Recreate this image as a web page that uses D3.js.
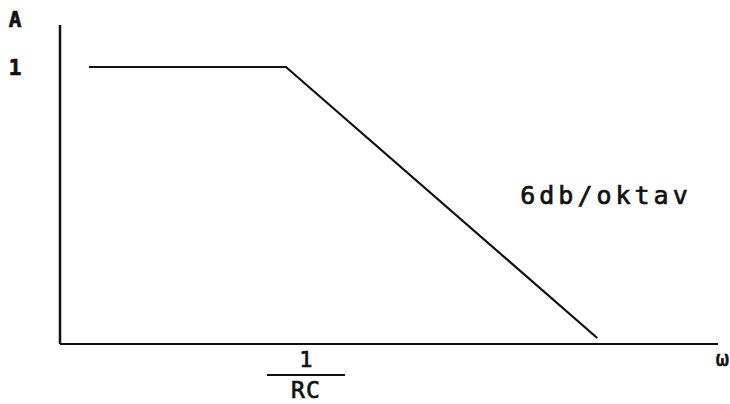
<!DOCTYPE html>
<html>
<head>
<meta charset="utf-8">
<script src="https://cdn.jsdelivr.net/npm/d3@7"></script>
<style>
  body { margin: 0; background: #fff; }
  text { font-family: "DejaVu Sans Mono", monospace; fill: #111; stroke: #111; stroke-width: 0.7px; }
</style>
</head>
<body>
<div id="chart"></div>
<script>
// asymptotic low-pass response, x in decades of omega*RC, y in dB
const logOmega = [-1, 0, 1.58];
const amplitudeDb = [0, 0, -31.6];
const slopeLabel = "6db/oktav";

const width = 730, height = 404;

const x = d3.scaleLinear().domain([-1.147, 2.193]).range([60, 718]);
const y = d3.scaleLinear().domain([-32.3, 4.9]).range([344, 25]);

const svg = d3.select("#chart")
    .append("svg")
    .attr("width", width)
    .attr("height", height);

// axes (no ticks, just the two lines)
svg.append("line")
    .attr("x1", x(-1.147)).attr("x2", x(-1.147))
    .attr("y1", y(4.9)).attr("y2", y(-32.3))
    .attr("stroke", "#111").attr("stroke-width", 2.5);

svg.append("line")
    .attr("x1", x(-1.147)).attr("x2", x(2.193))
    .attr("y1", y(-32.3)).attr("y2", y(-32.3))
    .attr("stroke", "#111").attr("stroke-width", 2.2);

// the response curve
const line = d3.line()
    .x((d, i) => x(logOmega[i]))
    .y(d => y(d));

svg.append("path")
    .datum(amplitudeDb)
    .attr("d", line)
    .attr("fill", "none")
    .attr("stroke", "#111")
    .attr("stroke-width", 2.2);

// labels
svg.append("text")
    .attr("x", 15).attr("y", 27)
    .attr("text-anchor", "middle")
    .style("font-size", "21px").style("font-weight", "bold")
    .text("A");

svg.append("text")
    .attr("x", 15).attr("y", y(0) + 8)
    .attr("text-anchor", "middle")
    .style("font-size", "21px").style("font-weight", "bold")
    .text("1");

svg.append("text")
    .attr("x", 606).attr("y", 204)
    .attr("text-anchor", "middle")
    .style("font-size", "25px").style("letter-spacing", "4px")
    .text(slopeLabel);

// 1/RC fraction under the corner frequency
const cx = x(0) + 20;
svg.append("text")
    .attr("x", cx).attr("y", 367)
    .attr("text-anchor", "middle")
    .style("font-size", "22px")
    .text("1");
svg.append("line")
    .attr("x1", cx - 39).attr("x2", cx + 39)
    .attr("y1", 375).attr("y2", 375)
    .attr("stroke", "#111").attr("stroke-width", 2);
svg.append("text")
    .attr("x", cx).attr("y", 398)
    .attr("text-anchor", "middle")
    .style("font-size", "23px").style("letter-spacing", "1px")
    .text("RC");

svg.append("text")
    .attr("x", 729).attr("y", 366)
    .attr("text-anchor", "end")
    .style("font-size", "22px")
    .text("ω");
</script>
</body>
</html>
